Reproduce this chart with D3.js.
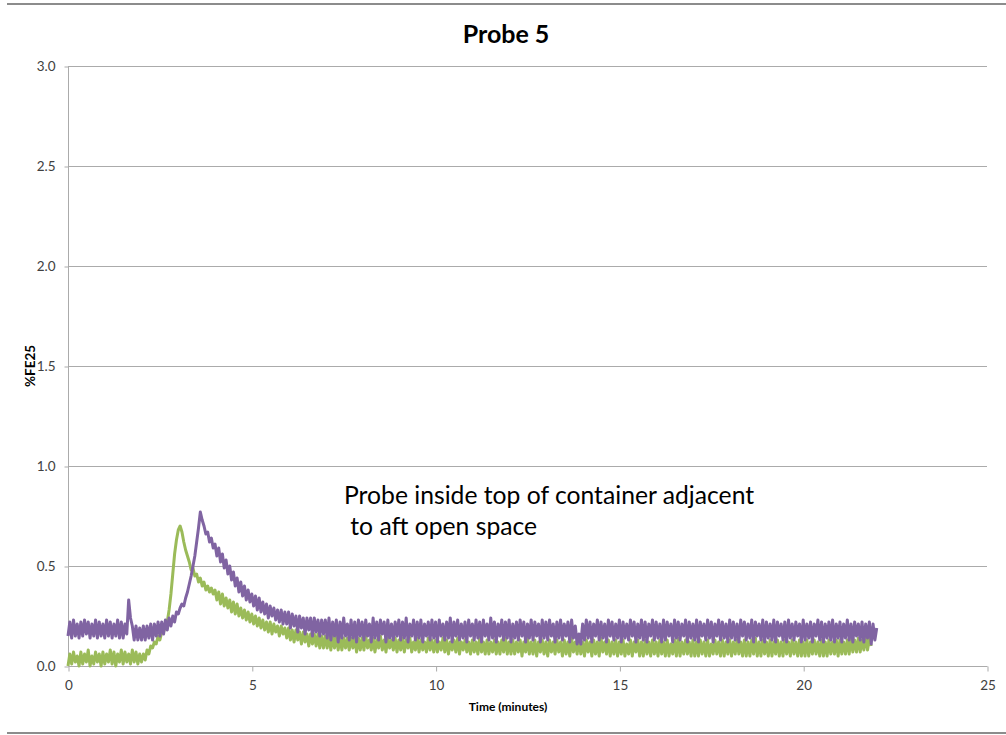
<!DOCTYPE html>
<html><head><meta charset="utf-8">
<script src="https://cdn.jsdelivr.net/npm/d3@7/dist/d3.min.js"></script>
<style>body{margin:0;background:#fff}svg{display:block}</style>
</head><body>
<svg id="c" width="1006" height="735"></svg>
<script>
const title = "Probe 5";
const xLabel = "Time (minutes)";
const yLabel = "%FE25";
const annotation = ["Probe inside top of container adjacent", " to aft open space"];
const xTicks = [0, 5, 10, 15, 20, 25];
const yTicks = [0, 0.5, 1.0, 1.5, 2.0, 2.5, 3.0];
const sampleStep = 0.05; // minutes between samples
const purpleSeries = [
0.15,0.22,0.14,0.23,0.15,0.21,0.14,0.22,0.15,0.23,0.16,0.22,0.14,0.21,0.15,0.23,0.14,0.22,0.15,0.21,
0.14,0.23,0.15,0.22,0.14,0.21,0.15,0.23,0.14,0.22,0.14,0.21,0.16,0.33,0.24,0.20,0.13,0.20,0.13,0.19,
0.13,0.20,0.13,0.20,0.14,0.21,0.13,0.21,0.15,0.22,0.15,0.22,0.16,0.23,0.18,0.24,0.20,0.25,0.22,0.27,
0.26,0.29,0.31,0.30,0.34,0.37,0.41,0.45,0.50,0.55,0.62,0.69,0.77,0.73,0.70,0.66,0.67,0.62,0.64,0.59,
0.61,0.55,0.59,0.52,0.56,0.49,0.53,0.46,0.50,0.43,0.47,0.40,0.44,0.37,0.42,0.35,0.40,0.33,0.38,0.32,
0.36,0.30,0.35,0.28,0.34,0.27,0.32,0.26,0.31,0.24,0.30,0.25,0.29,0.23,0.28,0.22,0.28,0.21,0.27,0.21,
0.27,0.19,0.26,0.20,0.25,0.17,0.25,0.19,0.24,0.16,0.24,0.18,0.24,0.15,0.24,0.17,0.23,0.15,0.23,0.16,
0.23,0.14,0.24,0.13,0.22,0.15,0.23,0.12,0.22,0.14,0.24,0.15,0.21,0.13,0.23,0.14,0.22,0.12,0.23,0.15,
0.22,0.13,0.23,0.15,0.21,0.12,0.24,0.14,0.22,0.13,0.23,0.16,0.22,0.12,0.23,0.14,0.21,0.13,0.22,0.15,
0.23,0.13,0.22,0.14,0.24,0.12,0.21,0.15,0.23,0.13,0.22,0.14,0.23,0.12,0.21,0.15,0.22,0.13,0.23,0.14,
0.22,0.12,0.23,0.15,0.21,0.13,0.22,0.14,0.24,0.12,0.22,0.15,0.23,0.13,0.21,0.14,0.22,0.12,0.23,0.15,
0.21,0.13,0.23,0.14,0.22,0.12,0.23,0.15,0.21,0.13,0.24,0.14,0.22,0.12,0.21,0.15,0.23,0.13,0.22,0.14,
0.23,0.12,0.21,0.14,0.22,0.13,0.23,0.15,0.22,0.12,0.21,0.14,0.23,0.13,0.22,0.15,0.21,0.12,0.23,0.14,
0.22,0.13,0.23,0.15,0.21,0.12,0.22,0.14,0.23,0.13,0.21,0.15,0.22,0.12,0.23,0.14,0.20,0.11,0.16,0.11,
0.21,0.13,0.23,0.14,0.22,0.12,0.21,0.15,0.23,0.13,0.22,0.14,0.21,0.12,0.23,0.15,0.22,0.13,0.21,0.14,
0.23,0.12,0.22,0.14,0.21,0.13,0.23,0.15,0.22,0.12,0.21,0.14,0.23,0.13,0.22,0.12,0.21,0.15,0.23,0.13,
0.22,0.14,0.21,0.12,0.23,0.13,0.22,0.15,0.21,0.12,0.23,0.14,0.22,0.13,0.21,0.15,0.23,0.12,0.22,0.14,
0.21,0.13,0.23,0.12,0.22,0.15,0.21,0.13,0.23,0.14,0.22,0.12,0.21,0.15,0.23,0.13,0.22,0.14,0.21,0.12,
0.23,0.14,0.22,0.13,0.21,0.12,0.23,0.15,0.22,0.13,0.21,0.14,0.23,0.12,0.22,0.15,0.21,0.13,0.23,0.12,
0.22,0.14,0.21,0.13,0.23,0.12,0.22,0.15,0.21,0.13,0.22,0.12,0.23,0.14,0.21,0.13,0.22,0.15,0.21,0.12,
0.23,0.13,0.21,0.14,0.22,0.12,0.21,0.15,0.23,0.13,0.22,0.12,0.21,0.14,0.22,0.13,0.23,0.12,0.21,0.14,
0.22,0.12,0.21,0.14,0.23,0.13,0.21,0.12,0.22,0.15,0.21,0.13,0.22,0.12,0.21,0.14,0.22,0.11,0.21,0.13,
0.19];
const greenSeries = [
0.00,0.06,0.01,0.07,0.02,0.05,0.00,0.07,0.01,0.06,0.02,0.08,0.00,0.05,0.01,0.07,0.02,0.06,0.00,0.07,
0.01,0.06,0.02,0.08,0.01,0.07,0.00,0.06,0.02,0.08,0.01,0.07,0.02,0.06,0.01,0.08,0.02,0.07,0.01,0.06,
0.02,0.06,0.03,0.08,0.06,0.10,0.09,0.12,0.11,0.15,0.13,0.17,0.17,0.20,0.22,0.28,0.36,0.46,0.56,0.63,
0.68,0.70,0.67,0.62,0.58,0.55,0.52,0.48,0.49,0.45,0.46,0.42,0.44,0.40,0.42,0.38,0.40,0.37,0.39,0.36,
0.38,0.33,0.37,0.31,0.36,0.30,0.34,0.29,0.33,0.27,0.32,0.26,0.31,0.25,0.29,0.24,0.28,0.23,0.27,0.22,
0.26,0.21,0.25,0.20,0.24,0.19,0.23,0.18,0.22,0.17,0.22,0.16,0.21,0.17,0.20,0.15,0.20,0.16,0.19,0.14,
0.19,0.13,0.18,0.12,0.18,0.13,0.17,0.11,0.17,0.12,0.16,0.10,0.16,0.11,0.16,0.10,0.16,0.09,0.15,0.09,
0.15,0.09,0.15,0.08,0.15,0.09,0.15,0.08,0.14,0.08,0.14,0.09,0.14,0.08,0.14,0.09,0.14,0.07,0.14,0.08,
0.14,0.08,0.15,0.09,0.13,0.08,0.14,0.07,0.13,0.09,0.15,0.08,0.13,0.07,0.14,0.09,0.13,0.08,0.14,0.07,
0.13,0.08,0.14,0.07,0.13,0.09,0.14,0.07,0.12,0.08,0.14,0.07,0.13,0.08,0.12,0.07,0.14,0.08,0.13,0.07,
0.13,0.07,0.12,0.08,0.14,0.07,0.13,0.06,0.12,0.08,0.13,0.07,0.14,0.06,0.12,0.08,0.13,0.07,0.12,0.06,
0.13,0.07,0.12,0.06,0.14,0.07,0.12,0.06,0.13,0.06,0.12,0.07,0.13,0.06,0.12,0.06,0.13,0.07,0.14,0.06,
0.12,0.06,0.13,0.06,0.12,0.07,0.13,0.05,0.12,0.07,0.14,0.06,0.12,0.06,0.13,0.05,0.12,0.07,0.13,0.06,
0.12,0.05,0.13,0.07,0.12,0.06,0.13,0.07,0.12,0.05,0.13,0.06,0.12,0.05,0.14,0.07,0.12,0.06,0.13,0.06,
0.12,0.05,0.13,0.07,0.12,0.05,0.13,0.06,0.12,0.05,0.14,0.07,0.12,0.06,0.13,0.05,0.12,0.06,0.13,0.05,
0.12,0.06,0.13,0.05,0.11,0.06,0.13,0.05,0.12,0.07,0.13,0.05,0.12,0.05,0.13,0.06,0.12,0.05,0.13,0.06,
0.12,0.05,0.13,0.06,0.12,0.05,0.13,0.05,0.11,0.06,0.13,0.05,0.14,0.05,0.12,0.06,0.13,0.06,0.12,0.05,
0.13,0.05,0.12,0.05,0.13,0.06,0.12,0.05,0.13,0.05,0.11,0.06,0.13,0.06,0.12,0.05,0.13,0.05,0.12,0.06,
0.13,0.05,0.12,0.06,0.13,0.06,0.12,0.05,0.13,0.05,0.12,0.05,0.13,0.06,0.14,0.05,0.12,0.05,0.13,0.06,
0.12,0.05,0.13,0.05,0.12,0.06,0.13,0.05,0.12,0.05,0.13,0.06,0.12,0.05,0.13,0.06,0.12,0.05,0.13,0.05,
0.12,0.05,0.13,0.05,0.12,0.06,0.13,0.06,0.12,0.05,0.13,0.05,0.12,0.05,0.13,0.06,0.12,0.06,0.13,0.05,
0.13,0.06,0.12,0.06,0.13,0.06,0.14,0.07,0.13,0.07,0.14,0.07,0.13,0.08,0.15,0.08,0.14,0.10];
const seriesList = [
  {name: "green", values: greenSeries, color: "#9BBB59"},
  {name: "purple", values: purpleSeries, color: "#8064A2"}
];

const svg = d3.select("#c");
const pLeft = 68, pRight = 987, pTop = 66, pBottom = 666;
const x = d3.scaleLinear().domain([0, 25]).range([pLeft, pRight]);
const y = d3.scaleLinear().domain([0, 3]).range([pBottom, pTop]);
const font = "Lato, 'Open Sans', sans-serif";
const gridColor = "#ababab";

// frame lines
svg.append("line").attr("x1", 7).attr("x2", 1006).attr("y1", 4).attr("y2", 4)
  .attr("stroke", "#8c8c8c").attr("stroke-width", 2);
svg.append("line").attr("x1", 7).attr("x2", 1006).attr("y1", 733).attr("y2", 733)
  .attr("stroke", "#8c8c8c").attr("stroke-width", 2);

// gridlines
svg.append("g").selectAll("line").data(yTicks.filter(d => d > 0)).join("line")
  .attr("x1", pLeft).attr("x2", pRight)
  .attr("y1", d => Math.round(y(d)) + 0.5).attr("y2", d => Math.round(y(d)) + 0.5)
  .attr("stroke", gridColor).attr("stroke-width", 1);

// y axis
const yAxis = svg.append("g").attr("transform", `translate(${pLeft + 0.5},0.5)`)
  .call(d3.axisLeft(y).tickValues(yTicks).tickFormat(d3.format(".1f")).tickSize(4).tickPadding(9));
yAxis.select(".domain").attr("stroke", gridColor).attr("d", `M0,${pTop}V${pBottom}`);
yAxis.selectAll(".tick line").attr("stroke", gridColor);
yAxis.selectAll("text").attr("font-family", font).attr("font-size", 13.5).attr("fill", "#404040");

// x axis
const xAxis = svg.append("g").attr("transform", `translate(0.5,${pBottom + 0.5})`)
  .call(d3.axisBottom(x).tickValues(xTicks).tickFormat(d3.format("d")).tickSize(5).tickPadding(9));
xAxis.select(".domain").attr("stroke", gridColor).attr("d", `M${pLeft},0H${pRight}`);
xAxis.selectAll(".tick line").attr("stroke", gridColor);
xAxis.selectAll("text").attr("font-family", font).attr("font-size", 13.5).attr("fill", "#404040");

// series
const line = d3.line().x((d, i) => x(i * sampleStep)).y(d => y(d));
svg.append("g").selectAll("path").data(seriesList).join("path")
  .attr("d", s => line(s.values))
  .attr("fill", "none").attr("stroke", s => s.color)
  .attr("stroke-width", 3).attr("stroke-linejoin", "round");

// texts
svg.append("text").attr("x", 506).attr("y", 43).attr("text-anchor", "middle")
  .attr("font-family", font).attr("font-weight", "bold").attr("font-size", 25).attr("fill", "#000")
  .text(title);
svg.append("text").attr("x", 508).attr("y", 711).attr("text-anchor", "middle")
  .attr("font-family", font).attr("font-weight", "bold").attr("font-size", 12).attr("fill", "#000")
  .text(xLabel);
svg.append("text").attr("transform", "translate(35,366) rotate(-90)").attr("text-anchor", "middle")
  .attr("font-family", font).attr("font-weight", "bold").attr("font-size", 13.5).attr("fill", "#000")
  .text(yLabel);
svg.append("g").selectAll("text").data(annotation).join("text")
  .attr("x", 344).attr("y", (d, i) => 504 + i * 31)
  .attr("font-family", font).attr("font-size", 24.7).attr("fill", "#000")
  .attr("xml:space", "preserve").style("white-space", "pre")
  .text(d => d);
</script>
</body></html>
